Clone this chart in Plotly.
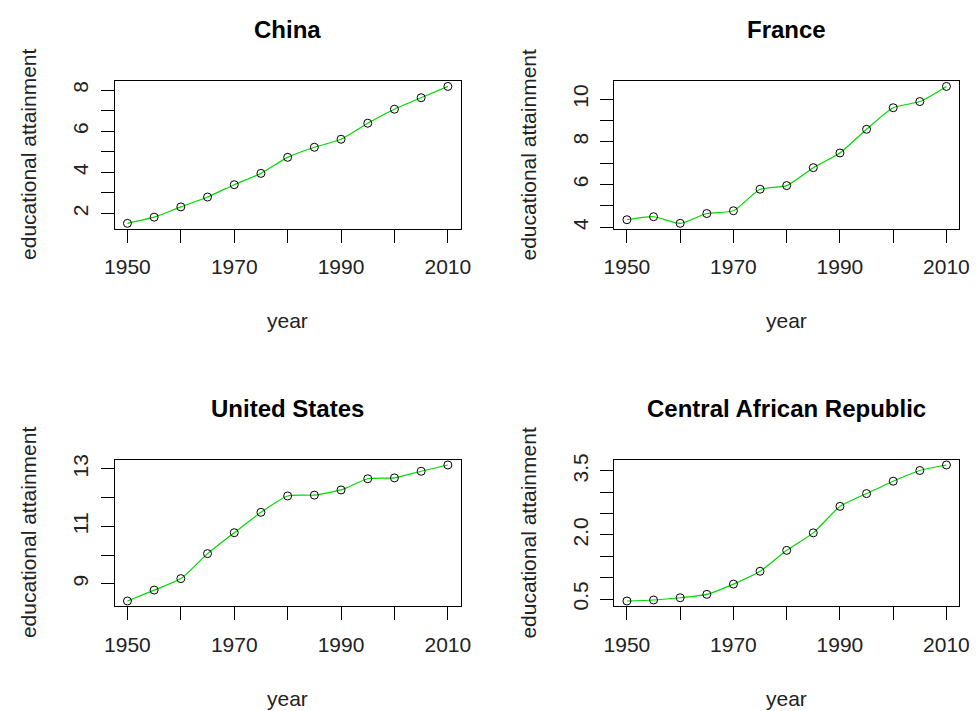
import plotly.graph_objects as go

years = [1950, 1955, 1960, 1965, 1970, 1975, 1980, 1985, 1990, 1995, 2000, 2005, 2010]

china = [1.52, 1.82, 2.32, 2.80, 3.40, 3.95, 4.73, 5.22, 5.61, 6.39, 7.07, 7.63, 8.18]
france = [4.35, 4.49, 4.18, 4.64, 4.77, 5.78, 5.95, 6.79, 7.48, 8.59, 9.60, 9.89, 10.60]
united_states = [8.40, 8.78, 9.18, 10.05, 10.78, 11.49, 12.06, 12.09, 12.27, 12.66, 12.69, 12.92, 13.14]
central_african_republic = [0.454, 0.477, 0.53, 0.61, 0.85, 1.15, 1.64, 2.05, 2.67, 2.97, 3.26, 3.51, 3.64]

titles = ["China", "France", "United States", "Central African Republic"]
series = [china, france, united_states, central_african_republic]

x_tickvals = [1950, 1960, 1970, 1980, 1990, 2000, 2010]
x_ticktext = ["1950", "", "1970", "", "1990", "", "2010"]

y_tickvals = [
    [2, 3, 4, 5, 6, 7, 8],
    [4, 5, 6, 7, 8, 9, 10],
    [9, 10, 11, 12, 13],
    [0.5, 1.0, 1.5, 2.0, 2.5, 3.0, 3.5],
]
y_ticktext = [
    ["2", "", "4", "", "6", "", "8"],
    ["4", "", "6", "", "8", "", "10"],
    ["9", "", "11", "", "13"],
    ["0.5", "", "", "2.0", "", "", "3.5"],
]

W, H = 980, 711
# plot boxes in pixels: (left, right, top, bottom)
boxes = [
    (106, 460, 76, 226),
    (617, 970, 76, 226),
    (106, 460, 460, 609),
    (617, 970, 460, 609),
]

FONT = "Liberation Sans, Arial, sans-serif"

fig = go.Figure()
annotations = []
layout = {}
for i, (ttl, vals, box) in enumerate(zip(titles, series, boxes)):
    n = "" if i == 0 else str(i + 1)
    xa, ya = "x" + n, "y" + n
    fig.add_trace(go.Scatter(x=years, y=vals, mode="lines",
                             line=dict(color="#00d800", width=1.2, shape="spline", smoothing=0.6),
                             xaxis=xa, yaxis=ya, showlegend=False, hoverinfo="skip"))
    fig.add_trace(go.Scatter(x=years, y=vals, mode="markers",
                             marker=dict(symbol="circle-open", size=8, color="black",
                                         line=dict(width=1, color="black")),
                             xaxis=xa, yaxis=ya, showlegend=False))
    l, r, t, b = box
    lo, hi = min(vals), max(vals)
    pad = 0.04 * (hi - lo)
    layout["xaxis" + n] = dict(
        domain=[l / W, r / W], anchor=ya, range=[1947.6, 2012.4],
        tickmode="array", tickvals=x_tickvals, ticktext=x_ticktext,
        ticks="outside", ticklen=13, tickwidth=1, tickcolor="black",
        showline=True, linecolor="black", linewidth=1, mirror=True,
        showgrid=False, zeroline=False,
        tickfont=dict(family=FONT, size=21, color="#222"),
        ticklabelstandoff=6,
    )
    layout["yaxis" + n] = dict(
        domain=[1 - b / H, 1 - t / H], anchor=xa, range=[lo - pad, hi + pad],
        tickmode="array", tickvals=y_tickvals[i], ticktext=y_ticktext[i],
        ticks="outside", ticklen=13, tickwidth=1, tickcolor="black",
        showline=True, linecolor="black", linewidth=1, mirror=True,
        showgrid=False, zeroline=False, tickangle=-90,
        tickfont=dict(family=FONT, size=21, color="#222"),
        ticklabelstandoff=4,
    )
    cx = (l + r) / 2
    # panel title
    annotations.append(dict(text="<b>" + ttl + "</b>", x=cx / W, y=1 - (t - 52) / H,
                            xref="paper", yref="paper", xanchor="center", yanchor="middle",
                            showarrow=False, font=dict(family=FONT, size=24, color="black")))
    # x axis title
    annotations.append(dict(text="year", x=cx / W, y=1 - (b + 93) / H,
                            xref="paper", yref="paper", xanchor="center", yanchor="middle",
                            showarrow=False, font=dict(family=FONT, size=21, color="#222")))
    # y axis title
    annotations.append(dict(text="educational attainment", x=(l - 87.5) / W, y=1 - ((t + b) / 2) / H,
                            xref="paper", yref="paper", xanchor="center", yanchor="middle",
                            textangle=-90, showarrow=False,
                            font=dict(family=FONT, size=21, color="#222")))

fig.update_layout(width=W, height=H, margin=dict(l=0, r=0, t=0, b=0),
                  plot_bgcolor="white", paper_bgcolor="white",
                  annotations=annotations, **layout)
fig.write_html("out.html", config={"displayModeBar": False},
               post_script="document.body.style.margin='0';document.body.style.padding='0';")
